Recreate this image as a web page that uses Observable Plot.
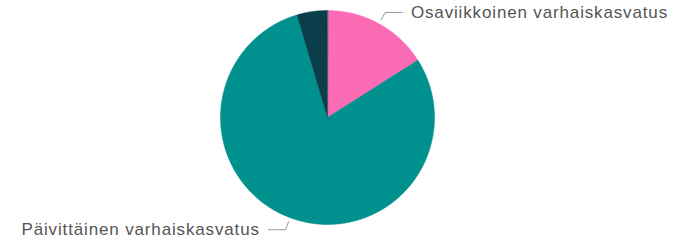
<!DOCTYPE html>
<html><head><meta charset="utf-8">
<script src="https://cdn.jsdelivr.net/npm/d3@7"></script>
<script src="https://cdn.jsdelivr.net/npm/@observablehq/plot@0.6"></script>
<style>body{margin:0;background:#fff} text{letter-spacing:0.85px}</style>
</head><body><div id="chart"></div>
<script>
const categories = ["Osaviikkoinen varhaiskasvatus", "Päivittäinen varhaiskasvatus", "Ei varhaiskasvatusta"];
const shares = [16.0, 79.4, 4.6];
const colors = ["#fb6cb5", "#00918e", "#0a3e4b"];
const labelled = [true, true, false];

const arcs = d3.pie().sort(null).value(d => d.value)(categories.map((name, i) => ({name, value: shares[i], labelled: labelled[i]})));

const poly = [];
for (const a of arcs) {
  const n = Math.max(2, Math.ceil((a.endAngle - a.startAngle) / 0.01));
  poly.push({name: a.data.name, x: 0, y: 0});
  for (let k = 0; k <= n; k++) {
    const t = a.startAngle + (a.endAngle - a.startAngle) * k / n;
    poly.push({name: a.data.name, x: Math.sin(t), y: Math.cos(t)});
  }
}

const R1 = 1.04, R2 = 1.12, H = 0.16, GAP = 0.08;
const leaders = [], labels = [];
for (const a of arcs) {
  if (!a.data.labelled) continue;
  const m = (a.startAngle + a.endAngle) / 2;
  const side = Math.sin(m) >= 0 ? 1 : -1;
  const ex = R2 * Math.sin(m), ey = R2 * Math.cos(m);
  leaders.push({name: a.data.name, x: R1 * Math.sin(m), y: R1 * Math.cos(m)});
  leaders.push({name: a.data.name, x: ex, y: ey});
  leaders.push({name: a.data.name, x: ex + side * H, y: ey});
  labels.push({name: a.data.name, side, x: ex + side * (H + GAP), y: ey});
}

const chart = Plot.plot({
  width: 677, height: 240, margin: 0,
  style: {fontFamily: "'Liberation Sans', Arial, sans-serif", background: "#fff"},
  x: {domain: [-327/107, 350/107], axis: null},
  y: {domain: [-123/107, 117/107], axis: null},
  color: {domain: categories, range: colors},
  marks: [
    Plot.line(poly, {x: "x", y: "y", z: "name", fill: "name", stroke: "name", strokeWidth: 0.5, curve: "linear-closed"}),
    Plot.line(leaders, {x: "x", y: "y", z: "name", stroke: "#9a9a9a", strokeWidth: 1}),
    Plot.text(labels.filter(d => d.side > 0), {x: "x", y: "y", text: "name", textAnchor: "start", fontSize: 17, fill: "#555"}),
    Plot.text(labels.filter(d => d.side < 0), {x: "x", y: "y", text: "name", textAnchor: "end", fontSize: 17, fill: "#555"})
  ]
});
document.getElementById("chart").appendChild(chart);
</script>
</body></html>
